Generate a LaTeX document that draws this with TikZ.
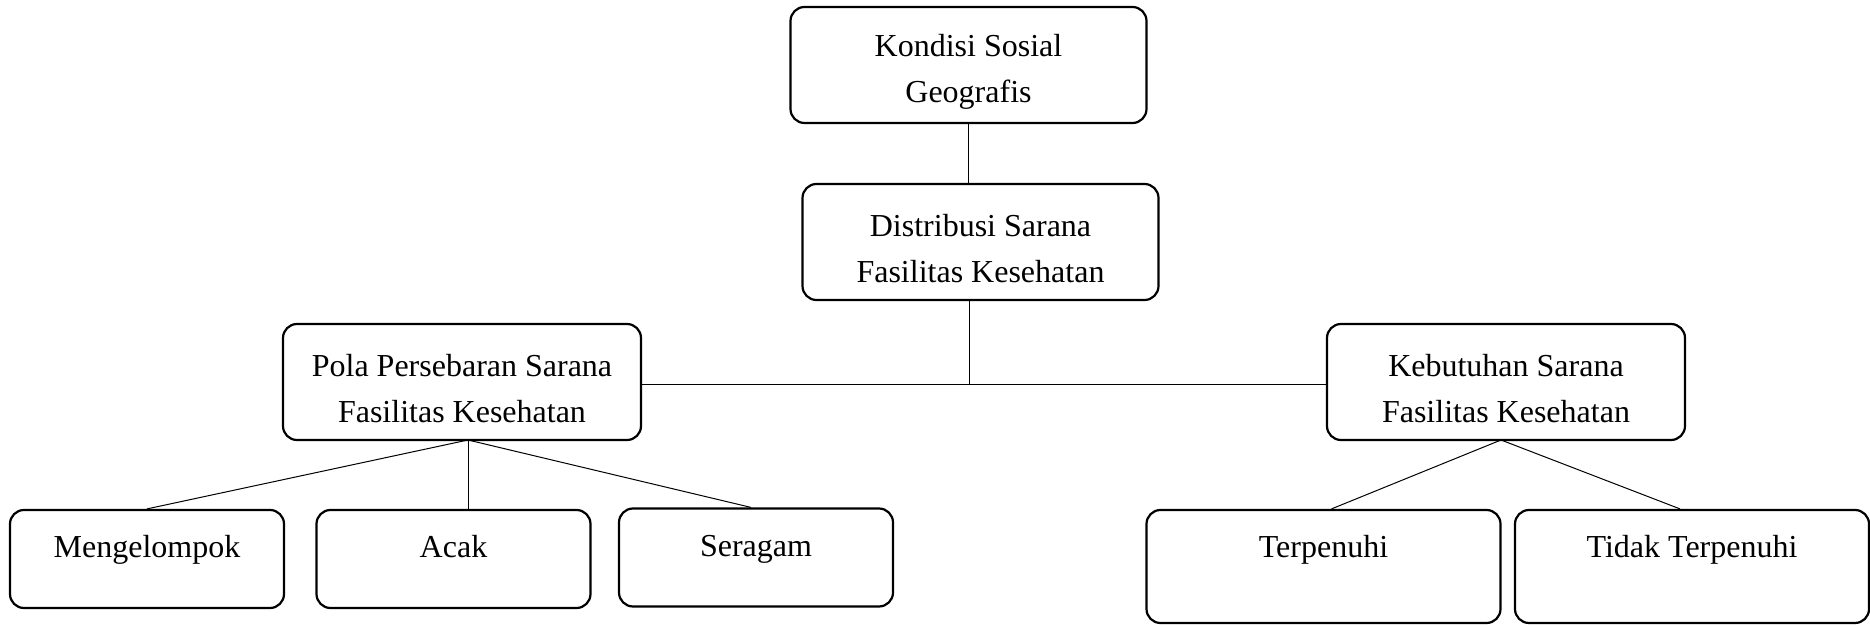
\documentclass[tikz,border=0pt]{standalone}
\usepackage{fontspec}
\setmainfont{Liberation Serif}
\usepackage{tikz}
\newcommand{\spasiatas}{\rule{0pt}{18pt}}

\begin{document}
\begin{tikzpicture}[x=0.5pt,y=-0.5pt,
    box/.style={draw, line width=1.1pt, rounded corners=7pt, align=center, inner sep=0pt,
        font=\fontsize{16}{23}\selectfont},
    bigbox/.style={box, minimum width=178pt, minimum height=58pt},
    leafbox/.style={box, minimum width=137pt, minimum height=49pt, text height=11pt, text depth=12pt},
    wideleaf/.style={box, minimum width=177pt, minimum height=56.5pt, text height=11pt, text depth=19.5pt},
    link/.style={line width=0.5pt}]
        \useasboundingbox (0,0) rectangle (1870,625);
        \node[bigbox] (kondisi) at (968.5,65) {\spasiatas Kondisi Sosial\\Geografis};
        \node[bigbox] (distribusi) at (980.5,242) {\spasiatas Distribusi Sarana\\Fasilitas Kesehatan};
        \node[bigbox, minimum width=179pt] (pola) at (462,382) {\spasiatas Pola Persebaran Sarana\\Fasilitas Kesehatan};
        \node[bigbox, minimum width=179pt] (kebutuhan) at (1506,382) {\spasiatas Kebutuhan Sarana\\Fasilitas Kesehatan};
        \node[leafbox] (mengelompok) at (147,559) {Mengelompok};
        \node[leafbox] (acak) at (453.5,559) {Acak};
        \node[leafbox] (seragam) at (756,557.5) {Seragam};
        \node[wideleaf] (terpenuhi) at (1323.5,566.5) {Terpenuhi};
        \node[wideleaf] (tidak) at (1692,566.5) {Tidak Terpenuhi};
        \coordinate (cabang) at (969,385);
        \coordinate (polakaki) at (468,440);
        \coordinate (butuhkaki) at (1501,440);
        \draw[link] (kondisi.south) -- (kondisi.south |- distribusi.north);
        \draw[link] (cabang |- distribusi.south) -- (cabang);
        \draw[link] (pola.east |- cabang) -- (kebutuhan.west |- cabang);
        \draw[link] (polakaki) -- (mengelompok.north);
        \draw[link] (polakaki) -- (polakaki |- acak.north);
        \draw[link] (polakaki) -- ([xshift=-2.5pt]seragam.north);
        \draw[link] (butuhkaki) -- ([xshift=4pt]terpenuhi.north);
        \draw[link] (butuhkaki) -- ([xshift=-6pt]tidak.north);
\end{tikzpicture}
\end{document}
